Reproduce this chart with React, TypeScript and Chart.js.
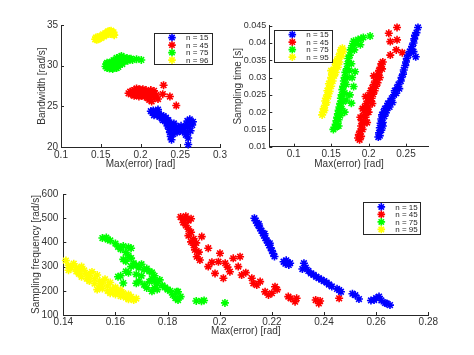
import React, { useEffect, useRef } from 'react';
import { Chart, registerables } from 'chart.js';

Chart.register(...registerables);

type Pt = [number, number];

// ---------- labels / ticks ----------
const seriesLabelsTopLeft = ['n = 15', 'n = 45', 'n = 75', 'n = 96'];
const seriesLabels = ['n = 15', 'n = 45', 'n = 75', 'n = 95'];
const seriesColors = ['#0000ff', '#ff0000', '#00ff00', '#ffff00'];

const tlXTicks = [0.1, 0.15, 0.2, 0.25, 0.3];
const tlYTicks = [20, 25, 30, 35];
const trXTicks = [0.1, 0.15, 0.2, 0.25];
const trYTicks = [0.01, 0.015, 0.02, 0.025, 0.03, 0.035, 0.04, 0.045];
const btXTicks = [0.14, 0.16, 0.18, 0.2, 0.22, 0.24, 0.26, 0.28];
const btYTicks = [100, 200, 300, 400, 500, 600];

// ---------- top-left: Max(error) vs Bandwidth ----------
const tlBlue: Pt[] = [
  [0.213, 24.4], [0.215, 24.2], [0.216, 24.5], [0.218, 24.1], [0.22, 24.3], [0.221, 23.9], [0.223, 24.1],
  [0.224, 23.7], [0.226, 23.9], [0.227, 23.5], [0.229, 23.8], [0.23, 23.3], [0.232, 23.6], [0.233, 23.0],
  [0.234, 22.6], [0.235, 23.3], [0.236, 22.2], [0.237, 21.8], [0.238, 22.8], [0.238, 21.3], [0.239, 20.9],
  [0.24, 22.4], [0.241, 21.6], [0.242, 22.9], [0.243, 22.0], [0.245, 22.5], [0.246, 21.8], [0.248, 22.3],
  [0.25, 22.0], [0.251, 22.6], [0.253, 21.9], [0.255, 22.3], [0.257, 21.5], [0.258, 22.8], [0.259, 23.2],
  [0.26, 21.1], [0.26, 20.3], [0.261, 22.5], [0.262, 23.4], [0.263, 22.0], [0.264, 23.0], [0.265, 22.7],
  [0.266, 23.1], [0.259, 21.8], [0.228, 23.3], [0.222, 24.6], [0.217, 23.9],
];
const tlRed: Pt[] = [
  [0.185, 26.6], [0.187, 26.8], [0.188, 26.5], [0.19, 26.9], [0.191, 26.6], [0.192, 27.0], [0.193, 26.7],
  [0.194, 26.4], [0.195, 27.2], [0.196, 26.8], [0.197, 26.5], [0.198, 26.9], [0.199, 27.1], [0.2, 26.6],
  [0.201, 26.3], [0.202, 26.9], [0.203, 27.1], [0.204, 26.7], [0.205, 26.2], [0.206, 26.5], [0.207, 27.0],
  [0.208, 26.4], [0.209, 26.0], [0.21, 26.7], [0.211, 25.8], [0.212, 26.3], [0.213, 27.0], [0.214, 25.6],
  [0.215, 26.5], [0.217, 26.9], [0.218, 26.1], [0.22, 26.4], [0.222, 25.9], [0.229, 27.6], [0.228, 26.5],
  [0.237, 26.2], [0.245, 25.1], [0.198, 26.2], [0.192, 26.3],
];
const tlGreen: Pt[] = [
  [0.156, 29.9], [0.157, 30.2], [0.158, 29.7], [0.159, 30.0], [0.16, 30.3], [0.161, 29.65], [0.162, 29.95],
  [0.163, 30.25], [0.164, 30.5], [0.165, 29.6], [0.166, 29.9], [0.167, 30.2], [0.168, 30.45], [0.169, 30.7],
  [0.17, 29.7], [0.171, 30.05], [0.172, 30.35], [0.173, 30.8], [0.174, 31.05], [0.175, 30.55], [0.176, 31.2],
  [0.177, 30.2], [0.178, 30.75], [0.179, 31.0], [0.18, 30.5], [0.181, 30.85], [0.183, 30.95], [0.184, 30.6],
  [0.186, 30.8], [0.188, 30.85], [0.19, 30.7], [0.195, 30.8], [0.201, 30.7], [0.166, 29.75], [0.163, 29.7],
  [0.158, 30.35], [0.172, 29.85], [0.166, 30.65], [0.17, 30.95],
];
const tlYellow: Pt[] = [
  [0.143, 33.25], [0.144, 33.45], [0.145, 33.2], [0.146, 33.5], [0.148, 33.35], [0.149, 33.6], [0.15, 33.4],
  [0.151, 33.65], [0.153, 33.85], [0.154, 33.6], [0.155, 33.75], [0.156, 33.95], [0.157, 33.8], [0.158, 34.05],
  [0.159, 34.2], [0.16, 33.95], [0.161, 34.25], [0.162, 34.1], [0.163, 34.3], [0.164, 34.15], [0.165, 34.0],
  [0.166, 33.85], [0.166, 34.1], [0.167, 33.75], [0.162, 33.9], [0.147, 33.25],
];

// ---------- top-right: Max(error) vs Sampling time ----------
const trBlue: Pt[] = [
  [0.213, 0.0128], [0.214, 0.014], [0.215, 0.0132], [0.215, 0.0155], [0.216, 0.0168], [0.217, 0.0148],
  [0.217, 0.018], [0.218, 0.0192], [0.219, 0.017], [0.22, 0.02], [0.221, 0.0188], [0.222, 0.021],
  [0.224, 0.0205], [0.225, 0.0218], [0.226, 0.0225], [0.228, 0.0215], [0.229, 0.0232], [0.231, 0.024],
  [0.232, 0.0228], [0.234, 0.025], [0.235, 0.0262], [0.237, 0.0255], [0.238, 0.027], [0.24, 0.028],
  [0.241, 0.0268], [0.243, 0.029], [0.244, 0.03], [0.246, 0.031], [0.247, 0.0322], [0.249, 0.0335],
  [0.25, 0.0345], [0.251, 0.0355], [0.253, 0.0365], [0.255, 0.0375], [0.257, 0.0382], [0.258, 0.039],
  [0.26, 0.04], [0.261, 0.0412], [0.262, 0.0422], [0.263, 0.036], [0.264, 0.043], [0.266, 0.0445],
  [0.26, 0.0375], [0.219, 0.016], [0.223, 0.0198],
];
const trRed: Pt[] = [
  [0.186, 0.0125], [0.187, 0.0135], [0.188, 0.012], [0.189, 0.0145], [0.19, 0.013], [0.19, 0.016],
  [0.191, 0.0175], [0.192, 0.015], [0.193, 0.019], [0.194, 0.0168], [0.194, 0.0205], [0.195, 0.0215],
  [0.196, 0.0185], [0.197, 0.0225], [0.198, 0.02], [0.199, 0.024], [0.2, 0.0215], [0.201, 0.025],
  [0.202, 0.023], [0.203, 0.0262], [0.204, 0.024], [0.205, 0.027], [0.206, 0.0252], [0.207, 0.028],
  [0.208, 0.0262], [0.209, 0.029], [0.21, 0.0275], [0.211, 0.03], [0.212, 0.0285], [0.213, 0.031],
  [0.214, 0.032], [0.215, 0.03], [0.216, 0.033], [0.217, 0.034], [0.218, 0.0325], [0.219, 0.0345],
  [0.229, 0.0365], [0.227, 0.0428], [0.229, 0.0404], [0.238, 0.0409], [0.238, 0.0445], [0.237, 0.038],
  [0.245, 0.0372], [0.192, 0.021], [0.2, 0.02], [0.205, 0.0225], [0.198, 0.017], [0.189, 0.0185],
  [0.196, 0.0245], [0.207, 0.0305],
];
const trGreen: Pt[] = [
  [0.153, 0.015], [0.155, 0.0155], [0.156, 0.0165], [0.157, 0.0175], [0.158, 0.016], [0.158, 0.0185],
  [0.159, 0.0195], [0.16, 0.0178], [0.16, 0.0205], [0.161, 0.0215], [0.162, 0.019], [0.162, 0.0225],
  [0.163, 0.024], [0.164, 0.021], [0.164, 0.025], [0.165, 0.0265], [0.166, 0.023], [0.166, 0.0275],
  [0.167, 0.029], [0.168, 0.0255], [0.168, 0.03], [0.169, 0.0315], [0.17, 0.028], [0.171, 0.0325],
  [0.172, 0.03], [0.172, 0.034], [0.173, 0.0355], [0.174, 0.032], [0.175, 0.0365], [0.176, 0.038],
  [0.177, 0.034], [0.178, 0.0392], [0.18, 0.0405], [0.181, 0.038], [0.183, 0.0398], [0.186, 0.041],
  [0.189, 0.0395], [0.19, 0.0412], [0.193, 0.0416], [0.202, 0.042], [0.182, 0.0317], [0.18, 0.0274],
  [0.177, 0.0226], [0.175, 0.025], [0.17, 0.0235], [0.168, 0.02], [0.16, 0.016], [0.178, 0.03],
];
const trYellow: Pt[] = [
  [0.138, 0.0192], [0.139, 0.02], [0.14, 0.021], [0.141, 0.0205], [0.142, 0.022], [0.142, 0.0232],
  [0.143, 0.024], [0.144, 0.0228], [0.145, 0.025], [0.145, 0.0262], [0.146, 0.0245], [0.147, 0.027],
  [0.147, 0.0282], [0.148, 0.026], [0.149, 0.029], [0.15, 0.0275], [0.15, 0.03], [0.151, 0.031],
  [0.152, 0.029], [0.153, 0.032], [0.154, 0.0305], [0.155, 0.033], [0.156, 0.0315], [0.157, 0.034],
  [0.158, 0.035], [0.159, 0.033], [0.16, 0.036], [0.161, 0.0345], [0.162, 0.037], [0.163, 0.038],
  [0.164, 0.0362], [0.165, 0.0385], [0.166, 0.0375], [0.155, 0.0345], [0.15, 0.032],
];

// ---------- bottom: Max(error) vs Sampling frequency ----------
const btBlue: Pt[] = [
  [0.2133, 500], [0.2138, 490], [0.2143, 480], [0.2148, 470], [0.2155, 458], [0.216, 448], [0.2165, 438],
  [0.217, 428], [0.2175, 418], [0.218, 408], [0.2185, 398], [0.219, 388], [0.2195, 378], [0.22, 366],
  [0.2205, 354], [0.221, 342], [0.215, 476], [0.2172, 436], [0.2192, 396], [0.2245, 320], [0.2252, 312],
  [0.226, 318], [0.2255, 326], [0.2265, 307], [0.227, 314], [0.2323, 314], [0.2317, 290], [0.233, 296],
  [0.234, 282], [0.235, 272], [0.236, 266], [0.237, 258], [0.238, 252], [0.239, 246], [0.24, 240],
  [0.241, 234], [0.2419, 226], [0.243, 218], [0.245, 208], [0.2458, 203], [0.2465, 196], [0.2509, 188],
  [0.252, 182], [0.2534, 166], [0.258, 160], [0.2592, 162], [0.26, 170], [0.2611, 176], [0.262, 160],
  [0.2634, 150], [0.264, 148], [0.2653, 141],
];
const btRed: Pt[] = [
  [0.185, 505], [0.186, 495], [0.187, 508], [0.186, 482], [0.187, 470], [0.188, 490], [0.188, 455],
  [0.189, 498], [0.189, 442], [0.188, 428], [0.19, 415], [0.189, 402], [0.19, 388], [0.191, 398],
  [0.1905, 369], [0.192, 360], [0.1912, 341], [0.1924, 327], [0.1931, 424], [0.1956, 376], [0.1956, 300],
  [0.197, 318], [0.1982, 272], [0.1995, 320], [0.2001, 355], [0.2021, 314], [0.2014, 252], [0.203, 298],
  [0.2039, 279], [0.2052, 334], [0.2078, 341], [0.2071, 300], [0.2084, 265], [0.21, 275], [0.2123, 252],
  [0.2129, 231], [0.2142, 224], [0.2155, 238], [0.2174, 196], [0.2187, 183], [0.22, 190], [0.2212, 217],
  [0.222, 205], [0.2263, 176], [0.2272, 169], [0.2289, 155], [0.2295, 169], [0.2368, 162], [0.238, 148],
  [0.2385, 158], [0.2458, 169],
];
const btGreen: Pt[] = [
  [0.155, 418], [0.1565, 420], [0.157, 412], [0.158, 408], [0.16, 395], [0.161, 382], [0.162, 372],
  [0.163, 385], [0.165, 380], [0.166, 376], [0.164, 358], [0.165, 345], [0.163, 330], [0.164, 322],
  [0.166, 335], [0.167, 314], [0.168, 305], [0.166, 300], [0.169, 295], [0.17, 310], [0.171, 288],
  [0.172, 292], [0.173, 280], [0.174, 276], [0.168, 268], [0.162, 262], [0.161, 258], [0.164, 280],
  [0.165, 275], [0.163, 232], [0.168, 231], [0.169, 240], [0.17, 262], [0.171, 225], [0.172, 212],
  [0.173, 238], [0.174, 250], [0.175, 240], [0.175, 262], [0.176, 228], [0.177, 245], [0.174, 198],
  [0.175, 212], [0.176, 205], [0.178, 222], [0.179, 214], [0.18, 205], [0.181, 200], [0.182, 183],
  [0.183, 170], [0.184, 196], [0.185, 176], [0.184, 162], [0.1835, 196], [0.191, 158], [0.193, 157],
  [0.194, 160], [0.202, 150],
];
const btYellow: Pt[] = [
  [0.141, 325], [0.142, 305], [0.142, 285], [0.143, 295], [0.144, 312], [0.145, 280], [0.145, 296],
  [0.146, 270], [0.147, 300], [0.147, 258], [0.148, 284], [0.149, 250], [0.149, 270], [0.15, 240],
  [0.15, 262], [0.151, 278], [0.152, 230], [0.152, 250], [0.153, 265], [0.154, 220], [0.154, 240],
  [0.155, 210], [0.155, 232], [0.156, 248], [0.157, 200], [0.157, 220], [0.158, 190], [0.158, 234],
  [0.159, 205], [0.16, 185], [0.16, 214], [0.161, 196], [0.162, 178], [0.162, 204], [0.163, 190],
  [0.164, 172], [0.165, 185], [0.165, 165], [0.166, 175], [0.167, 162], [0.168, 168], [0.146, 288],
  [0.153, 205],
];

// ---------- styling ----------
const FONT = '"Liberation Sans", Arial, Helvetica, sans-serif';
const AXIS_COLOR = '#262626';
const TEXT_COLOR = '#333333';

const inwardTicks = {
  id: 'inwardTicks',
  beforeDatasetsDraw(chart: any) {
    const { ctx, chartArea } = chart;
    const xs = chart.scales.x;
    const ys = chart.scales.y;
    ctx.save();
    ctx.strokeStyle = AXIS_COLOR;
    ctx.lineWidth = 1;
    ctx.beginPath();
    xs.ticks.forEach((t: any) => {
      const px = Math.round(xs.getPixelForValue(t.value)) + 0.5;
      ctx.moveTo(px, chartArea.bottom);
      ctx.lineTo(px, chartArea.bottom - 3);
    });
    ys.ticks.forEach((t: any) => {
      const py = Math.round(ys.getPixelForValue(t.value)) + 0.5;
      ctx.moveTo(chartArea.left, py);
      ctx.lineTo(chartArea.left + 3, py);
    });
    ctx.stroke();
    ctx.restore();
  },
};

const boxLegend = {
  id: 'boxLegend',
  afterDraw(chart: any, _args: any, opts: any) {
    if (!opts || !opts.box) return;
    const { ctx } = chart;
    const { x, y, w, h } = opts.box;
    ctx.save();
    ctx.fillStyle = '#ffffff';
    ctx.fillRect(x, y, w, h);
    ctx.strokeStyle = AXIS_COLOR;
    ctx.lineWidth = 1;
    ctx.strokeRect(Math.round(x) + 0.5, Math.round(y) + 0.5, Math.round(w), Math.round(h));
    chart.data.datasets.forEach((ds: any, i: number) => {
      const cy = y + 4.6 + i * 7.5;
      const cx = x + 18;
      const r = 3.8;
      ctx.strokeStyle = ds.borderColor;
      ctx.lineWidth = 1.6;
      ctx.beginPath();
      for (let k = 0; k < 4; k++) {
        const a = (k * Math.PI) / 4;
        ctx.moveTo(cx - r * Math.cos(a), cy - r * Math.sin(a));
        ctx.lineTo(cx + r * Math.cos(a), cy + r * Math.sin(a));
      }
      ctx.stroke();
      ctx.fillStyle = AXIS_COLOR;
      ctx.font = `8px ${FONT}`;
      ctx.textAlign = 'left';
      ctx.textBaseline = 'middle';
      ctx.fillText(ds.label, x + 32, cy + 0.5);
    });
    ctx.restore();
  },
};

interface PanelSpec {
  left: number;
  top: number;
  width: number;
  height: number;
  padTop: number;
  padRight: number;
  yWidth: number;
  xHeight: number;
  xMin: number;
  xMax: number;
  yMin: number;
  yMax: number;
  xTicks: number[];
  yTicks: number[];
  xTitle: string;
  yTitle: string;
  xTickPad: number;
  yTickPad: number;
  xTitlePad: number;
  yTitlePad: number;
  yTickSize: number;
  series: Pt[][];
  labels: string[];
  legend: { x: number; y: number; w: number; h: number };
}

function makeConfig(s: PanelSpec): any {
  const font = { family: FONT, size: 10 };
  return {
    type: 'scatter',
    data: {
      datasets: s.series.map((pts, i) => ({
        label: s.labels[i],
        data: pts.map(([x, y]) => ({ x, y })),
        borderColor: seriesColors[i],
        backgroundColor: seriesColors[i],
        pointStyle: 'star',
        pointRadius: 4,
        pointBorderWidth: 1.6,
        pointHoverRadius: 4,
        clip: false,
      })),
    },
    plugins: [inwardTicks, boxLegend],
    options: {
      responsive: false,
      maintainAspectRatio: false,
      animation: false,
      events: [],
      layout: { padding: { left: 0, top: s.padTop, right: s.padRight, bottom: 0 } },
      plugins: {
        legend: { display: false },
        tooltip: { enabled: false },
        boxLegend: { box: s.legend },
      },
      scales: {
        x: {
          type: 'linear',
          min: s.xMin,
          max: s.xMax,
          afterBuildTicks: (sc: any) => {
            sc.ticks = s.xTicks.map((v) => ({ value: v }));
          },
          afterFit: (sc: any) => {
            sc.height = s.xHeight;
          },
          ticks: {
            callback: (v: any) => String(v),
            font,
            color: TEXT_COLOR,
            padding: s.xTickPad,
            maxRotation: 0,
            autoSkip: false,
            includeBounds: false,
          },
          grid: { display: false, drawTicks: false },
          border: { display: true, color: AXIS_COLOR, width: 1 },
          title: {
            display: true,
            text: s.xTitle,
            font,
            color: TEXT_COLOR,
            padding: { top: 0, bottom: s.xTitlePad },
          },
        },
        y: {
          type: 'linear',
          min: s.yMin,
          max: s.yMax,
          afterBuildTicks: (sc: any) => {
            sc.ticks = s.yTicks.map((v) => ({ value: v }));
          },
          afterFit: (sc: any) => {
            sc.width = s.yWidth;
          },
          ticks: {
            callback: (v: any) => String(v),
            font: { family: FONT, size: s.yTickSize },
            color: TEXT_COLOR,
            padding: s.yTickPad,
            autoSkip: false,
            includeBounds: false,
          },
          grid: { display: false, drawTicks: false },
          border: { display: true, color: AXIS_COLOR, width: 1 },
          title: {
            display: true,
            text: s.yTitle,
            font,
            color: TEXT_COLOR,
            padding: { top: s.yTitlePad, bottom: 0 },
          },
        },
      },
    },
  };
}

const panels: PanelSpec[] = [
  {
    left: 0, top: 0, width: 237, height: 175,
    padTop: 25, padRight: 17, yWidth: 61, xHeight: 28,
    xMin: 0.1, xMax: 0.3, yMin: 20, yMax: 35,
    xTicks: tlXTicks, yTicks: tlYTicks,
    xTitle: 'Max(error) [rad]', yTitle: 'Bandwidth [rad/s]',
    xTickPad: 2, yTickPad: 3, xTitlePad: 5, yTitlePad: 36, yTickSize: 10,
    series: [tlBlue, tlRed, tlGreen, tlYellow],
    labels: seriesLabelsTopLeft,
    legend: { x: 154, y: 33, w: 58, h: 31 },
  },
  {
    left: 225, top: 0, width: 249, height: 175,
    padTop: 25.7, padRight: 45.3, yWidth: 44.3, xHeight: 28.3,
    xMin: 0.0674, xMax: 0.2803, yMin: 0.01, yMax: 0.045,
    xTicks: trXTicks, yTicks: trYTicks,
    xTitle: 'Max(error) [rad]', yTitle: 'Sampling time [s]',
    xTickPad: 2, yTickPad: 3, xTitlePad: 5, yTitlePad: 7, yTickSize: 9,
    series: [trBlue, trRed, trGreen, trYellow],
    labels: seriesLabels,
    legend: { x: 49.3, y: 30, w: 58.4, h: 31.7 },
  },
  {
    left: 0, top: 170, width: 474, height: 185,
    padTop: 24, padRight: 45.7, yWidth: 63.3, xHeight: 40,
    xMin: 0.14, xMax: 0.28, yMin: 100, yMax: 600,
    xTicks: btXTicks, yTicks: btYTicks,
    xTitle: 'Max(error) [rad]', yTitle: 'Sampling frequency [rad/s]',
    xTickPad: 1, yTickPad: 5, xTitlePad: 18, yTitlePad: 30.7, yTickSize: 10,
    series: [btBlue, btRed, btGreen, btYellow],
    labels: seriesLabels,
    legend: { x: 363.3, y: 32.3, w: 57.4, h: 32 },
  },
];

function Panel({ spec }: { spec: PanelSpec }) {
  const ref = useRef<HTMLCanvasElement | null>(null);
  useEffect(() => {
    if (!ref.current) return;
    const chart = new Chart(ref.current, makeConfig(spec));
    return () => chart.destroy();
  }, [spec]);
  return (
    <canvas
      ref={ref}
      width={spec.width}
      height={spec.height}
      style={{
        position: 'absolute',
        left: spec.left,
        top: spec.top,
        width: spec.width,
        height: spec.height,
      }}
    />
  );
}

export default function App() {
  return (
    <div
      style={{
        position: 'absolute',
        left: 0,
        top: 0,
        width: 474,
        height: 355,
        background: '#ffffff',
        overflow: 'hidden',
      }}
    >
      {panels.map((p, i) => (
        <Panel key={i} spec={p} />
      ))}
    </div>
  );
}
